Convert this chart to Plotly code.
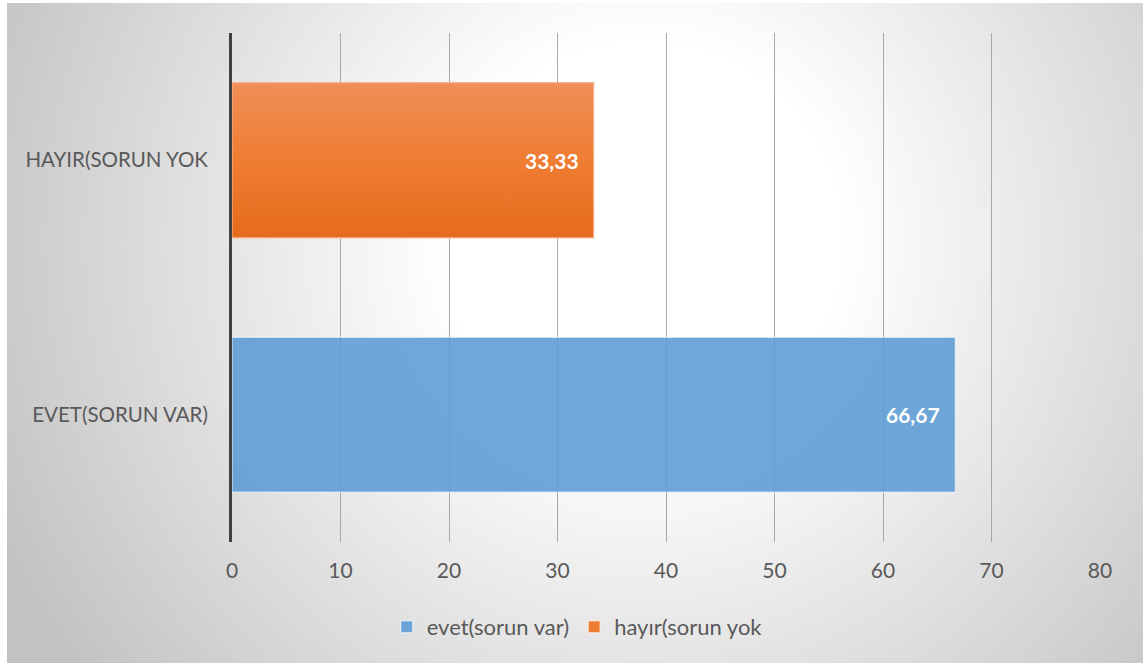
import base64
import plotly.graph_objects as go

# Survey answers and their percentages
categories = ["EVET(SORUN VAR)", "HAYIR(SORUN YOK"]
series_names = ["evet(sorun var)", "hayır(sorun yok"]
values = [66.67, 33.33]
x_ticks = [0, 10, 20, 30, 40, 50, 60, 70, 80]

positions = list(range(len(categories)))
bar_width = 0.61
text_color = "#595959"
font_family = "Lato, 'Open Sans', sans-serif"
font_size = 21

fig = go.Figure()

# Blue bar (first answer)
fig.add_trace(go.Bar(
    x=[values[0]], y=[positions[0]], orientation="h", width=bar_width,
    name=series_names[0],
    marker=dict(color="rgba(91,155,213,0.88)",
                line=dict(color="rgba(255,255,255,0.55)", width=1.5)),
    hoverinfo="x",
))

# Orange bar (second answer), kept for the legend entry
fig.add_trace(go.Bar(
    x=[values[1]], y=[positions[1]], orientation="h", width=bar_width,
    name=series_names[1],
    marker=dict(color="#ed7d31",
                line=dict(color="rgba(255,255,255,0.55)", width=1.5)),
    hoverinfo="x",
))

# Vertical shading on the orange bar, built from the same value
v = values[1]
p = positions[1]
fig.add_trace(go.Scatter(
    x=[0, v, v, 0, 0],
    y=[p - bar_width / 2, p - bar_width / 2, p + bar_width / 2, p + bar_width / 2, p - bar_width / 2],
    mode="lines", fill="toself",
    line=dict(color="#f3b38e", width=1.2),
    fillgradient=dict(type="vertical",
                      colorscale=[[0, "#e56b1c"], [0.5, "#ef7d32"], [1, "#f08f59"]]),
    showlegend=False, hoverinfo="skip",
))

# Value labels inside the bar ends
for val, pos in zip(values, positions):
    fig.add_annotation(
        x=val, y=pos, xref="x", yref="y",
        text=f"{val:.2f}".replace(".", ","),
        showarrow=False, xanchor="right", xshift=-13,
        font=dict(family=font_family, size=font_size, color="white", weight="bold"),
    )

# Soft radial background of the chart area
svg = (
    '<svg xmlns="http://www.w3.org/2000/svg" width="1136" height="660" '
    'viewBox="0 0 1136 660" preserveAspectRatio="none">'
    '<defs><radialGradient id="g" cx="0.56" cy="0.36" r="0.62" '
    'gradientTransform="translate(0.56,0.36) scale(1,1.72) translate(-0.56,-0.36)">'
    '<stop offset="0" stop-color="#ffffff"/>'
    '<stop offset="0.28" stop-color="#ffffff"/>'
    '<stop offset="1" stop-color="#c3c3c3"/>'
    '</radialGradient></defs>'
    '<rect width="1136" height="660" fill="url(#g)"/></svg>'
)
bg_uri = "data:image/svg+xml;base64," + base64.b64encode(svg.encode()).decode()

W, H = 1143, 663
fig.add_layout_image(
    source=bg_uri, xref="paper", yref="paper",
    x=7 / W, y=1 - 3 / H, sizex=1 - 7 / W, sizey=1 - 3 / H,
    xanchor="left", yanchor="top", sizing="stretch", layer="below",
)

fig.update_layout(
    width=W, height=H,
    margin=dict(l=0, r=0, t=0, b=0, autoexpand=False),
    paper_bgcolor="white",
    plot_bgcolor="rgba(0,0,0,0)",
    barmode="overlay",
    font=dict(family=font_family, size=font_size, color=text_color),
    showlegend=True,
    legend=dict(
        orientation="h", x=0.505, y=(H - 627) / H,
        xanchor="center", yanchor="middle",
        bgcolor="rgba(0,0,0,0)",
        font=dict(family=font_family, size=22, color=text_color),
        itemwidth=30, tracegroupgap=0,
    ),
    xaxis=dict(
        domain=[232 / W, 1100 / W],
        range=[0, 80],
        tickvals=x_ticks,
        ticktext=[str(t) for t in x_ticks],
        showgrid=True, gridcolor="#a8a8a8", gridwidth=1,
        zeroline=False, showline=False, ticks="",
        ticklabelstandoff=14, automargin=False,
        tickfont=dict(size=font_size, color=text_color),
        fixedrange=True,
    ),
    yaxis=dict(
        domain=[(H - 542) / H, (H - 33) / H],
        range=[-0.5, 1.5],
        tickvals=positions,
        ticktext=categories,
        showgrid=False, zeroline=False,
        showline=True, linecolor="#404040", linewidth=3,
        ticks="", ticklabelstandoff=17, automargin=False,
        tickfont=dict(size=20.5, color=text_color),
        fixedrange=True,
    ),
)

fig.write_html("out.html")
